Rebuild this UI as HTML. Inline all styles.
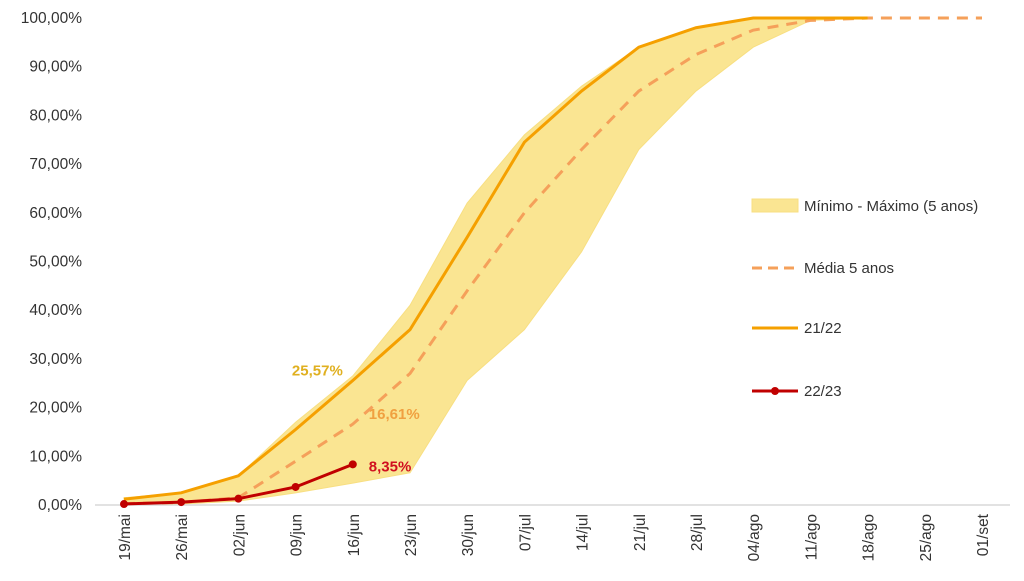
<!DOCTYPE html>
<html><head><meta charset="utf-8"><style>
body{margin:0;background:#fff;font-family:"Liberation Sans",sans-serif}
svg text{font-family:"Liberation Sans",sans-serif}
</style></head><body>
<svg id="c" width="1024" height="576"></svg>
<script>
const categories=["19/mai","26/mai","02/jun","09/jun","16/jun","23/jun","30/jun","07/jul","14/jul","21/jul","28/jul","04/ago","11/ago","18/ago","25/ago","01/set"];
const maxBand=[1.5,2.5,6,17,26.5,41,62,76,86,94,98,100,100,100];
const minBand=[0,0.2,0.8,2.5,4.5,6.6,25.6,36,52,73,85,94,99.5,100];
const series2122=[1.2,2.5,6,15.5,25.57,36,55,74.5,85,94,98,100,100,100];
const media=[0.3,0.5,1.5,9,16.61,27,44,60,73,85,92.5,97.5,99.5,100,100,100];
const series2223=[0.2,0.6,1.3,3.7,8.35];
const yTicks=[0,10,20,30,40,50,60,70,80,90,100];
const NS="http://www.w3.org/2000/svg",svg=document.getElementById('c');
const x=i=>124+i*57.2, y=v=>505-v*4.87;
function el(t,a,txt){const e=document.createElementNS(NS,t);for(const k in a)e.setAttribute(k,a[k]);if(txt!==undefined)e.textContent=txt;svg.appendChild(e);return e;}
yTicks.forEach(v=>{const t=el('text',{x:82,y:y(v)+5,'text-anchor':'end','font-size':15.5,fill:'#333'},v+',00%');

});
categories.forEach((c,i)=>{const t=el('text',{transform:`translate(${x(i)+6},${514}) rotate(-90)`,'text-anchor':'end','font-size':15.5,fill:'#333'},c);

});
let pts=maxBand.map((v,i)=>x(i)+','+y(v)).concat(minBand.map((v,i)=>x(i)+','+y(v)).reverse());
const band=el('polygon',{points:pts.join(' '),fill:'#fae592',stroke:'#f8df82','stroke-width':1});


const ax=el('line',{x1:95,x2:1010,y1:505,y2:505,stroke:'#d9d9d9','stroke-width':1.5});


const pl=(d,st)=>el('polyline',Object.assign({points:d.map((v,i)=>x(i)+','+y(v)).join(' '),fill:'none'},st));
const m=pl(media,{stroke:'#f5a05a','stroke-width':3,'stroke-dasharray':'11,8'});


const a=pl(series2122,{stroke:'#f5a000','stroke-width':3});


const b=pl(series2223,{stroke:'#c00000','stroke-width':3});


series2223.forEach((v,i)=>{const c=el('circle',{cx:x(i),cy:y(v),r:4,fill:'#c00000'});

});
const l1=el('text',{x:x(4)-10,y:y(series2122[4])-5,'text-anchor':'end','font-size':15,'font-weight':'bold',fill:'#e0b020'},'25,57%');


const l2=el('text',{x:x(4)+16,y:y(media[4])-5,'font-size':15,'font-weight':'bold',fill:'#f0a040'},'16,61%');


const l3=el('text',{x:x(4)+16,y:y(series2223[4])+7,'font-size':15,'font-weight':'bold',fill:'#d01020'},'8,35%');


const lr=el('rect',{x:752,y:199,width:46,height:13,fill:'#fae592',stroke:'#f8df82'});


const lt1=el('text',{x:804,y:211,'font-size':15,fill:'#333'},'Mínimo - Máximo (5 anos)');


const ld=el('line',{x1:752,x2:798,y1:268,y2:268,stroke:'#f5a05a','stroke-width':3,'stroke-dasharray':'10,6'});


const lt2=el('text',{x:804,y:273,'font-size':15,fill:'#333'},'Média 5 anos');


const la=el('line',{x1:752,x2:798,y1:328,y2:328,stroke:'#f5a000','stroke-width':3});


const lt3=el('text',{x:804,y:333,'font-size':15,fill:'#333'},'21/22');


const lb=el('line',{x1:752,x2:798,y1:391,y2:391,stroke:'#c00000','stroke-width':3});


const lc=el('circle',{cx:775,cy:391,r:4,fill:'#c00000'});


const lt4=el('text',{x:804,y:396,'font-size':15,fill:'#333'},'22/23');


</script>
</body></html>
